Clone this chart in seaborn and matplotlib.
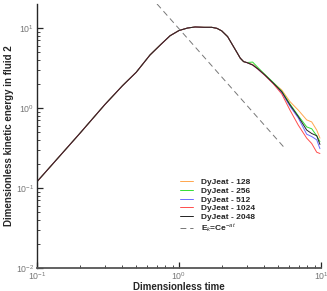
import matplotlib
matplotlib.use("Agg")
import matplotlib.pyplot as plt
import seaborn as sns
import pandas as pd
import numpy as np

# shared early-time part of the curves (all resolutions collapse here)
t_head = [0.1, 0.15, 0.2, 0.3, 0.4, 0.5, 0.625, 0.75, 0.865, 1.0, 1.15, 1.3, 1.5,
          1.7, 1.85, 2.0, 2.2, 2.4, 2.55, 2.7, 2.85, 3.0]
e_head = [0.12, 0.27, 0.48, 1.1, 1.9, 2.8, 4.6, 6.3, 8.0, 9.3, 10.0, 10.3, 10.2,
          10.2, 9.9, 9.2, 7.8, 6.0, 5.0, 4.2, 3.8, 3.7]

# later times, where the resolutions separate
t_tail = [3.3, 3.6, 4.03, 4.62, 5.29, 6.05, 6.92, 7.93, 8.6, 9.33, 9.83]
e_128 = [3.5, 3.1, 2.6, 2.06, 1.68, 1.20, 0.94, 0.71, 0.67, 0.53, 0.42]
e_256 = [3.75, 3.2, 2.62, 2.08, 1.62, 1.12, 0.80, 0.58, 0.55, 0.45, 0.38]
e_512 = [3.45, 3.05, 2.56, 2.02, 1.55, 1.05, 0.75, 0.47, 0.44, 0.40, 0.31]
e_1024 = [3.45, 3.05, 2.55, 2.00, 1.50, 0.94, 0.61, 0.42, 0.36, 0.28, 0.27]
e_2048 = [3.45, 3.08, 2.58, 2.04, 1.60, 1.09, 0.78, 0.53, 0.48, 0.45, 0.35]

# reference decay line
t_fit = [0.7, 5.6]
e_fit = [20.0, 0.31]

labels = ["DyJeat - 128", "DyJeat - 256", "DyJeat - 512", "DyJeat - 1024", "DyJeat - 2048"]
series = [e_128, e_256, e_512, e_1024, e_2048]
colors = ["#ffa64d", "#33dd33", "#6b6bff", "#ff4d4d", "#222222"]

sns.set_style("ticks")
plt.rcParams['font.family'] = ['Liberation Sans', 'DejaVu Sans']
plt.rcParams['mathtext.fontset'] = 'custom'
plt.rcParams['mathtext.rm'] = 'Liberation Sans'
plt.rcParams['mathtext.it'] = 'Liberation Sans:italic'

fig = plt.figure(figsize=(3.27, 2.91), dpi=100)
ax = fig.add_axes([37/327, 1-268/291, (321-37)/327, (268-4)/291])

for lab, e_t, c in zip(labels, series, colors):
    df = pd.DataFrame({"t": t_head + t_tail, "E": e_head + e_t})
    sns.lineplot(data=df, x="t", y="E", ax=ax, color=c, lw=0.7, label=lab,
                 estimator=None, sort=False)

fit_df = pd.DataFrame({"t": t_fit, "E": e_fit})
sns.lineplot(data=fit_df, x="t", y="E", ax=ax, color="#777777", lw=0.7,
             dashes=False, label=r"E$_k$=Ce$^{-at}$")
ax.lines[-1].set_linestyle((0, (6, 4)))

ax.set_xscale("log")
ax.set_yscale("log")
ax.set_xlim(0.1, 10)
ax.set_ylim(0.01, 10**1.3)

for s in ["top", "right"]:
    ax.spines[s].set_visible(False)
ax.spines["left"].set_linewidth(1.0)
ax.spines["bottom"].set_linewidth(1.3)
ax.spines["bottom"].set_color("#555555")

ax.tick_params(which="major", direction="in", length=4, width=0.9, labelsize=6.3,
               labelcolor="#777777", pad=2)
ax.tick_params(which="minor", direction="in", length=2.2, width=0.6)

ax.set_xlabel("Dimensionless time", fontsize=7, fontweight="bold", labelpad=0)
ax.set_ylabel("Dimensionless kinetic energy in fluid 2", fontsize=7,
              fontweight="bold", labelpad=1)

leg = ax.legend(loc="upper left", bbox_to_anchor=(180/327, 1-178/291),
                bbox_transform=fig.transFigure, frameon=False, fontsize=6,
                handlelength=1.6, handletextpad=0.9, labelspacing=0.12,
                borderpad=0, borderaxespad=0)
for txt in leg.get_texts():
    txt.set_fontweight("bold")

fig.savefig("out.png", dpi=100)
